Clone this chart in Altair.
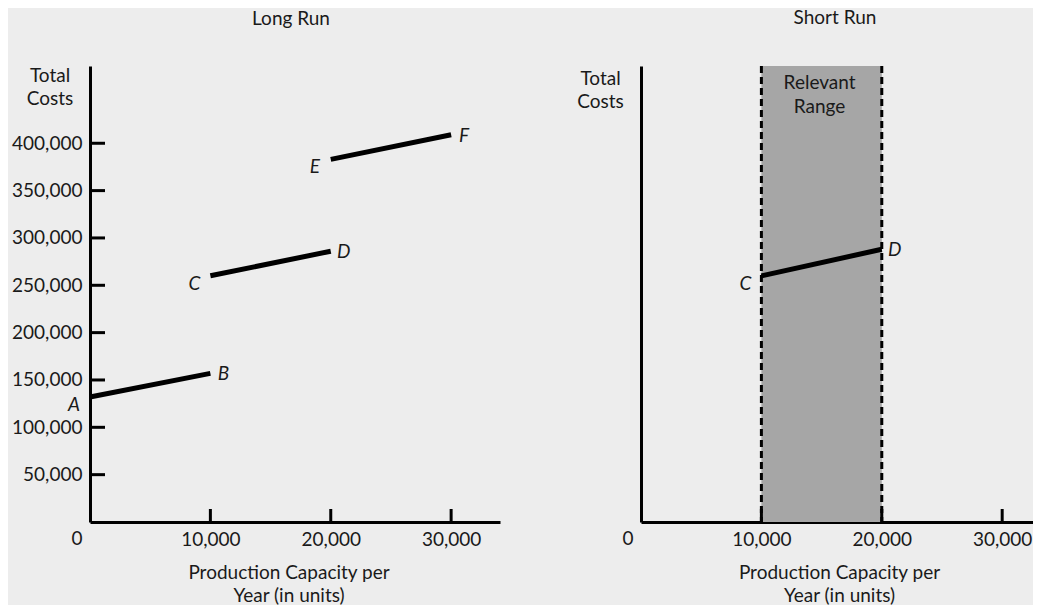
import altair as alt
import pandas as pd

FONT = "Lato"
BG = "#ededed"
INK = "#1a1a1a"
SHADE = "#a6a6a6"

# ---------------- data ----------------
# Long run: three cost segments (A-B, C-D, E-F)
long_seg = ["AB", "AB", "CD", "CD", "EF", "EF"]
long_x = [0, 10000, 10000, 20000, 20000, 30000]
long_y = [132000, 157000, 260000, 286000, 383000, 409000]
long_lbl = ["A", "B", "C", "D", "E", "F"]
long_side = ["left", "right", "left", "right", "left", "right"]

# Short run: one segment within the relevant range
short_seg = ["CD", "CD"]
short_x = [10000, 20000]
short_y = [260000, 288000]
short_lbl = ["C", "D"]
short_side = ["left", "right"]

relevant_lo = [10000]
relevant_hi = [20000]
relevant_txt = ["Relevant\nRange"]

y_tick_vals = [50000, 100000, 150000, 200000, 250000, 300000, 350000, 400000]
x_tick_vals = [10000, 20000, 30000]
origin_lbl = ["0"]

x_title = ["Production Capacity per", "Year (in units)"]
y_title = ["Total", "Costs"]

# ---------------- layout constants ----------------
X_MAX_L = 34060
X_MAX_R = 32560
Y_MAX = 481600
W_L, W_R, H = 410, 392, 456
FS = 19

long_df = pd.DataFrame({"seg": long_seg, "x": long_x, "y": long_y,
                        "label": long_lbl, "side": long_side})
short_df = pd.DataFrame({"seg": short_seg, "x": short_x, "y": short_y,
                         "label": short_lbl, "side": short_side})
ytick_df = pd.DataFrame({"y": y_tick_vals})
xtick_df = pd.DataFrame({"x": x_tick_vals})
origin_df = pd.DataFrame({"x": [0], "y": [0], "t": origin_lbl})
range_df = pd.DataFrame({"lo": relevant_lo, "hi": relevant_hi, "t": relevant_txt})

ys = alt.Scale(domain=[0, Y_MAX], nice=False, zero=True)


def x_axis(title_x):
    return alt.Axis(values=x_tick_vals, format=",.0f", title=x_title, grid=False,
                    ticks=False, tickSize=0, domainColor="black", domainWidth=3,
                    labelFont=FONT, labelFontSize=FS, labelColor=INK,
                    labelPadding=8, labelFlush=False,
                    titleFont=FONT, titleFontSize=FS, titleFontWeight="normal",
                    titleColor=INK, titleX=title_x, titleY=56, titleAlign="center",
                    titleBaseline="alphabetic", titleLineHeight=23)


def y_axis(show_labels, title_x, title_y):
    return alt.Axis(values=y_tick_vals, format=",.0f", title=y_title, grid=False,
                    ticks=False, tickSize=0, labels=show_labels,
                    domainColor="black", domainWidth=3,
                    labelFont=FONT, labelFontSize=FS, labelColor=INK,
                    labelPadding=8, labelFlush=False,
                    titleFont=FONT, titleFontSize=FS, titleFontWeight="normal",
                    titleColor=INK, titleAngle=0, titleX=title_x, titleY=title_y,
                    titleAlign="center", titleBaseline="alphabetic",
                    titleLineHeight=23)


def panel(df, xs, width, xa, ya, title, title_dx, range_data=None, ticks_y=True):
    def X(field):
        return alt.X(field, scale=xs, axis=xa)

    def Y(field):
        return alt.Y(field, scale=ys, axis=ya)

    layers = []
    if range_data is not None:
        layers.append(alt.Chart(range_data).mark_rect(color=SHADE).encode(
            x=X("lo:Q"), x2="hi:Q", y=alt.value(0), y2=alt.value(H)))
        for f in ["lo:Q", "hi:Q"]:
            layers.append(alt.Chart(range_data).mark_rule(
                color="black", strokeWidth=3, strokeDash=[7, 4]).encode(
                x=X(f), y=alt.value(0), y2=alt.value(H)))
        layers.append(alt.Chart(range_data).transform_calculate(
            mid="(datum.lo + datum.hi) / 2").mark_text(
            align="center", baseline="alphabetic", lineBreak="\n", lineHeight=24, dx=-2,
            font=FONT, fontSize=FS, color=INK).encode(
            x=X("mid:Q"), y=alt.value(23), text="t:N"))

    layers.append(alt.Chart(df).mark_line(color="black", strokeWidth=5, strokeCap="butt").encode(
        x=X("x:Q"), y=Y("y:Q"), detail="seg:N"))
    if ticks_y:
        layers.append(
            alt.Chart(ytick_df).mark_rule(color="black", strokeWidth=3).encode(
                y=Y("y:Q"), x=alt.value(0), x2=alt.value(15)))
    layers.append(
        alt.Chart(xtick_df).mark_rule(color="black", strokeWidth=3).encode(
            x=X("x:Q"), y=alt.value(H), y2=alt.value(H - 13)))
    layers.append(
        alt.Chart(origin_df).mark_text(align="center", baseline="top", dx=-13, dy=8,
                                       font=FONT, fontSize=FS, color=INK).encode(
            x=X("x:Q"), y=Y("y:Q"), text="t:N"))
    layers.append(
        alt.Chart(df).transform_filter("datum.side == 'left'").mark_text(
            align="center", baseline="middle", dx=-16, dy=8, font=FONT, fontSize=FS,
            fontStyle="italic", color=INK).encode(
            x=X("x:Q"), y=Y("y:Q"), text="label:N"))
    layers.append(
        alt.Chart(df).transform_filter("datum.side == 'right'").mark_text(
            align="center", baseline="middle", dx=13, dy=1, font=FONT, fontSize=FS,
            fontStyle="italic", color=INK).encode(
            x=X("x:Q"), y=Y("y:Q"), text="label:N"))
    return alt.layer(*layers).properties(
        width=width, height=H,
        title=alt.TitleParams(title, font=FONT, fontSize=FS, fontWeight="normal",
                              color=INK, anchor="middle", dx=title_dx, offset=22,
                              baseline="alphabetic"),
    )


xs_l = alt.Scale(domain=[0, X_MAX_L], nice=False, zero=True)
xs_r = alt.Scale(domain=[0, X_MAX_R], nice=False, zero=True)

left = panel(long_df, xs_l, W_L, x_axis(198.5), y_axis(True, -40.5, 15.3),
             "Long Run", -4)
right = panel(short_df, xs_r, W_R, x_axis(198), y_axis(False, -41, 18),
              "Short Run", -2, range_data=range_df, ticks_y=False)

chart = alt.hconcat(left, right, spacing=76).properties(
    background=BG,
    padding={"left": 3, "right": 0, "top": 0, "bottom": 0},
).configure_view(stroke=None)

chart.save("out.html", embed_options={"renderer": "svg", "actions": False})
